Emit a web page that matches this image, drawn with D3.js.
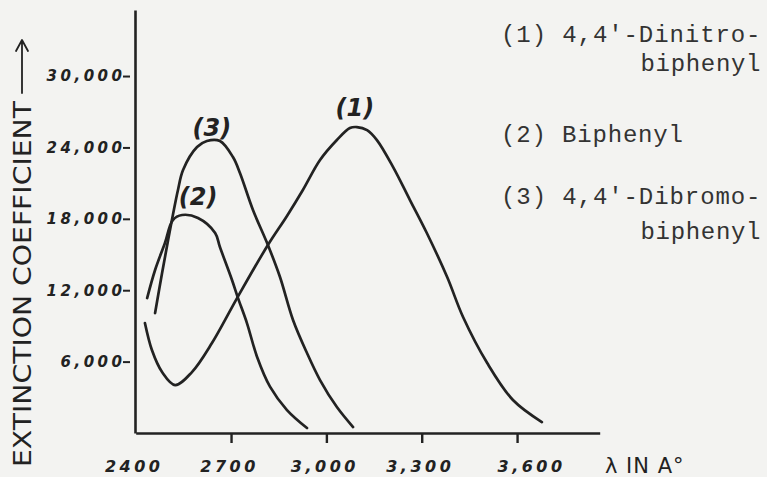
<!DOCTYPE html>
<html>
<head>
<meta charset="utf-8">
<script src="https://cdn.jsdelivr.net/npm/d3@7"></script>
<style>
  html, body { margin: 0; padding: 0; background: #f3f3f1; }
  svg { display: block; }
</style>
</head>
<body>
<svg id="chart" width="767" height="477"></svg>
<script>
// ---- data ----
const seriesLabels = ["(1)", "(2)", "(3)"];
const seriesNames = ["4,4'-Dinitrobiphenyl", "Biphenyl", "4,4'-Dibromobiphenyl"];

const wavelength1 = [2429, 2451, 2483, 2524, 2577, 2640, 2719, 2816, 2876, 2926, 2980, 3033, 3074, 3096, 3128, 3159, 3210, 3263, 3316, 3380, 3430, 3506, 3587, 3678];
const extinction1 = [9240, 6970, 5120, 4030, 5120, 7560, 11340, 15800, 18240, 20420, 22940, 24620, 25630, 25710, 25460, 24620, 22350, 19580, 16810, 13110, 9750, 5880, 2770, 920];

const wavelength2 = [2436, 2461, 2492, 2517, 2546, 2596, 2650, 2665, 2703, 2722, 2750, 2782, 2823, 2876, 2939];
const extinction2 = [11340, 13700, 15970, 17900, 18320, 18070, 16810, 15630, 12860, 11340, 9240, 6390, 3870, 1930, 420];

const wavelength3 = [2461, 2483, 2502, 2517, 2533, 2549, 2593, 2624, 2665, 2706, 2728, 2769, 2816, 2854, 2895, 2939, 2980, 3033, 3084];
const extinction3 = [10080, 13450, 16220, 18320, 20420, 22100, 24030, 24540, 24540, 23190, 21850, 18740, 15800, 13110, 9500, 6720, 4450, 2180, 500];

const xTicks = [2400, 2700, 3000, 3300, 3600];
const xTickLabels = ["2400", "2700", "3,000", "3,300", "3,600"];
const yTicks = [6000, 12000, 18000, 24000, 30000];
const yTickLabels = ["6,000", "12,000", "18,000", "24,000", "30,000"];

const legendLines = ["(1) 4,4'-Dinitro-", "biphenyl", "(2) Biphenyl", "(3) 4,4'-Dibromo-", "biphenyl"];
const xTitle = "λ IN A°";
const yTitle = "EXTINCTION COEFFICIENT";

// ---- layout ----
const svg = d3.select("#chart");
const ink = "#222";
const hand = "'DejaVu Sans', sans-serif";

const x = d3.scaleLinear().domain([2400, 3860]).range([135.7, 599.7]);
const y = d3.scaleLinear().domain([0, 35550]).range([433, 10]);

// axes
const gx = svg.append("g").attr("transform", "translate(0,433)")
  .call(d3.axisBottom(x).tickValues(xTicks).tickFormat((d, i) => xTickLabels[i])
    .tickSizeOuter(0).tickSizeInner(10));
gx.select(".domain").attr("stroke", ink).attr("stroke-width", 2.6);
gx.selectAll(".tick line").attr("stroke", ink).attr("stroke-width", 2.4)
  .attr("opacity", d => d === 2400 ? 0 : 1);
gx.selectAll(".tick text")
  .attr("y", 39).attr("dy", 0)
  .attr("dx", d => d === 3600 ? 14 : -2)
  .attr("fill", ink)
  .style("font-family", hand).style("font-style", "italic").style("font-weight", "bold")
  .style("font-size", "16px").style("letter-spacing", "3.5px");

const gy = svg.append("g").attr("transform", "translate(135,0)")
  .call(d3.axisLeft(y).tickValues(yTicks).tickFormat((d, i) => yTickLabels[i])
    .tickSizeOuter(0).tickSizeInner(0).tickPadding(13));
gy.select(".domain").attr("stroke", ink).attr("stroke-width", 2.6);
gy.selectAll(".tick line").attr("x1", -12).attr("x2", -5)
  .attr("stroke", ink).attr("stroke-width", 2);
gy.selectAll(".tick text")
  .attr("dx", 3.5)
  .attr("fill", ink)
  .style("font-family", hand).style("font-style", "italic").style("font-weight", "bold")
  .style("font-size", "15px").style("letter-spacing", "3.5px");

// curves
const series = [
  { wl: wavelength1, ext: extinction1 },
  { wl: wavelength2, ext: extinction2 },
  { wl: wavelength3, ext: extinction3 }
];
const line = d3.line().x(d => x(d[0])).y(d => y(d[1])).curve(d3.curveCatmullRom.alpha(0.5));
svg.append("g").selectAll("path").data(series).join("path")
  .attr("d", s => line(s.wl.map((w, i) => [w, s.ext[i]])))
  .attr("fill", "none").attr("stroke", ink).attr("stroke-width", 2.7)
  .attr("stroke-linecap", "round").attr("stroke-linejoin", "round");

// curve labels placed above each peak
const labelDx = [-2, 16, 5];
const labelDy = [-11, -10, -5];
svg.append("g").selectAll("text").data(series).join("text")
  .attr("x", (s, i) => {
    const k = s.ext.indexOf(d3.max(s.ext));
    return x(s.wl[k]) + labelDx[i];
  })
  .attr("y", (s, i) => {
    const k = s.ext.indexOf(d3.max(s.ext));
    return y(s.ext[k]) + labelDy[i];
  })
  .attr("text-anchor", "middle")
  .attr("fill", ink)
  .style("font-family", hand).style("font-style", "italic").style("font-weight", "bold")
  .style("font-size", "24px")
  .text((s, i) => seriesLabels[i]);

// axis titles
svg.append("text")
  .attr("x", 605).attr("y", 473)
  .attr("fill", ink)
  .style("font-family", hand).style("font-size", "21px")
  .style("letter-spacing", "1px")
  .text(xTitle);

const yt = svg.append("g").attr("transform", "translate(31,467) rotate(-90)");
yt.append("text")
  .attr("x", 0).attr("y", 0)
  .attr("textLength", 366).attr("lengthAdjust", "spacingAndGlyphs")
  .attr("fill", ink)
  .style("font-family", hand).style("font-size", "25px")
  .text(yTitle);
yt.append("path")
  .attr("d", "M374,-9 L426,-9 M416,-15 L427,-9 L416,-3")
  .attr("fill", "none").attr("stroke", ink).attr("stroke-width", 1.8)
  .attr("stroke-linecap", "round").attr("stroke-linejoin", "round");

// legend (typewriter text)
const charW = 15.5;
const legendBaselines = [42, 71, 142, 204, 239];
const legendIndent = [0, 9, 0, 0, 9];
svg.append("g").selectAll("text").data(legendLines).join("text")
  .attr("x", (d, i) => 501 + legendIndent[i] * charW)
  .attr("y", (d, i) => legendBaselines[i])
  .attr("textLength", d => d.length * charW - 4)
  .attr("fill", "#333")
  .style("font-family", "'Liberation Mono', monospace")
  .style("font-size", "24px")
  .text(d => d);
</script>
</body>
</html>
